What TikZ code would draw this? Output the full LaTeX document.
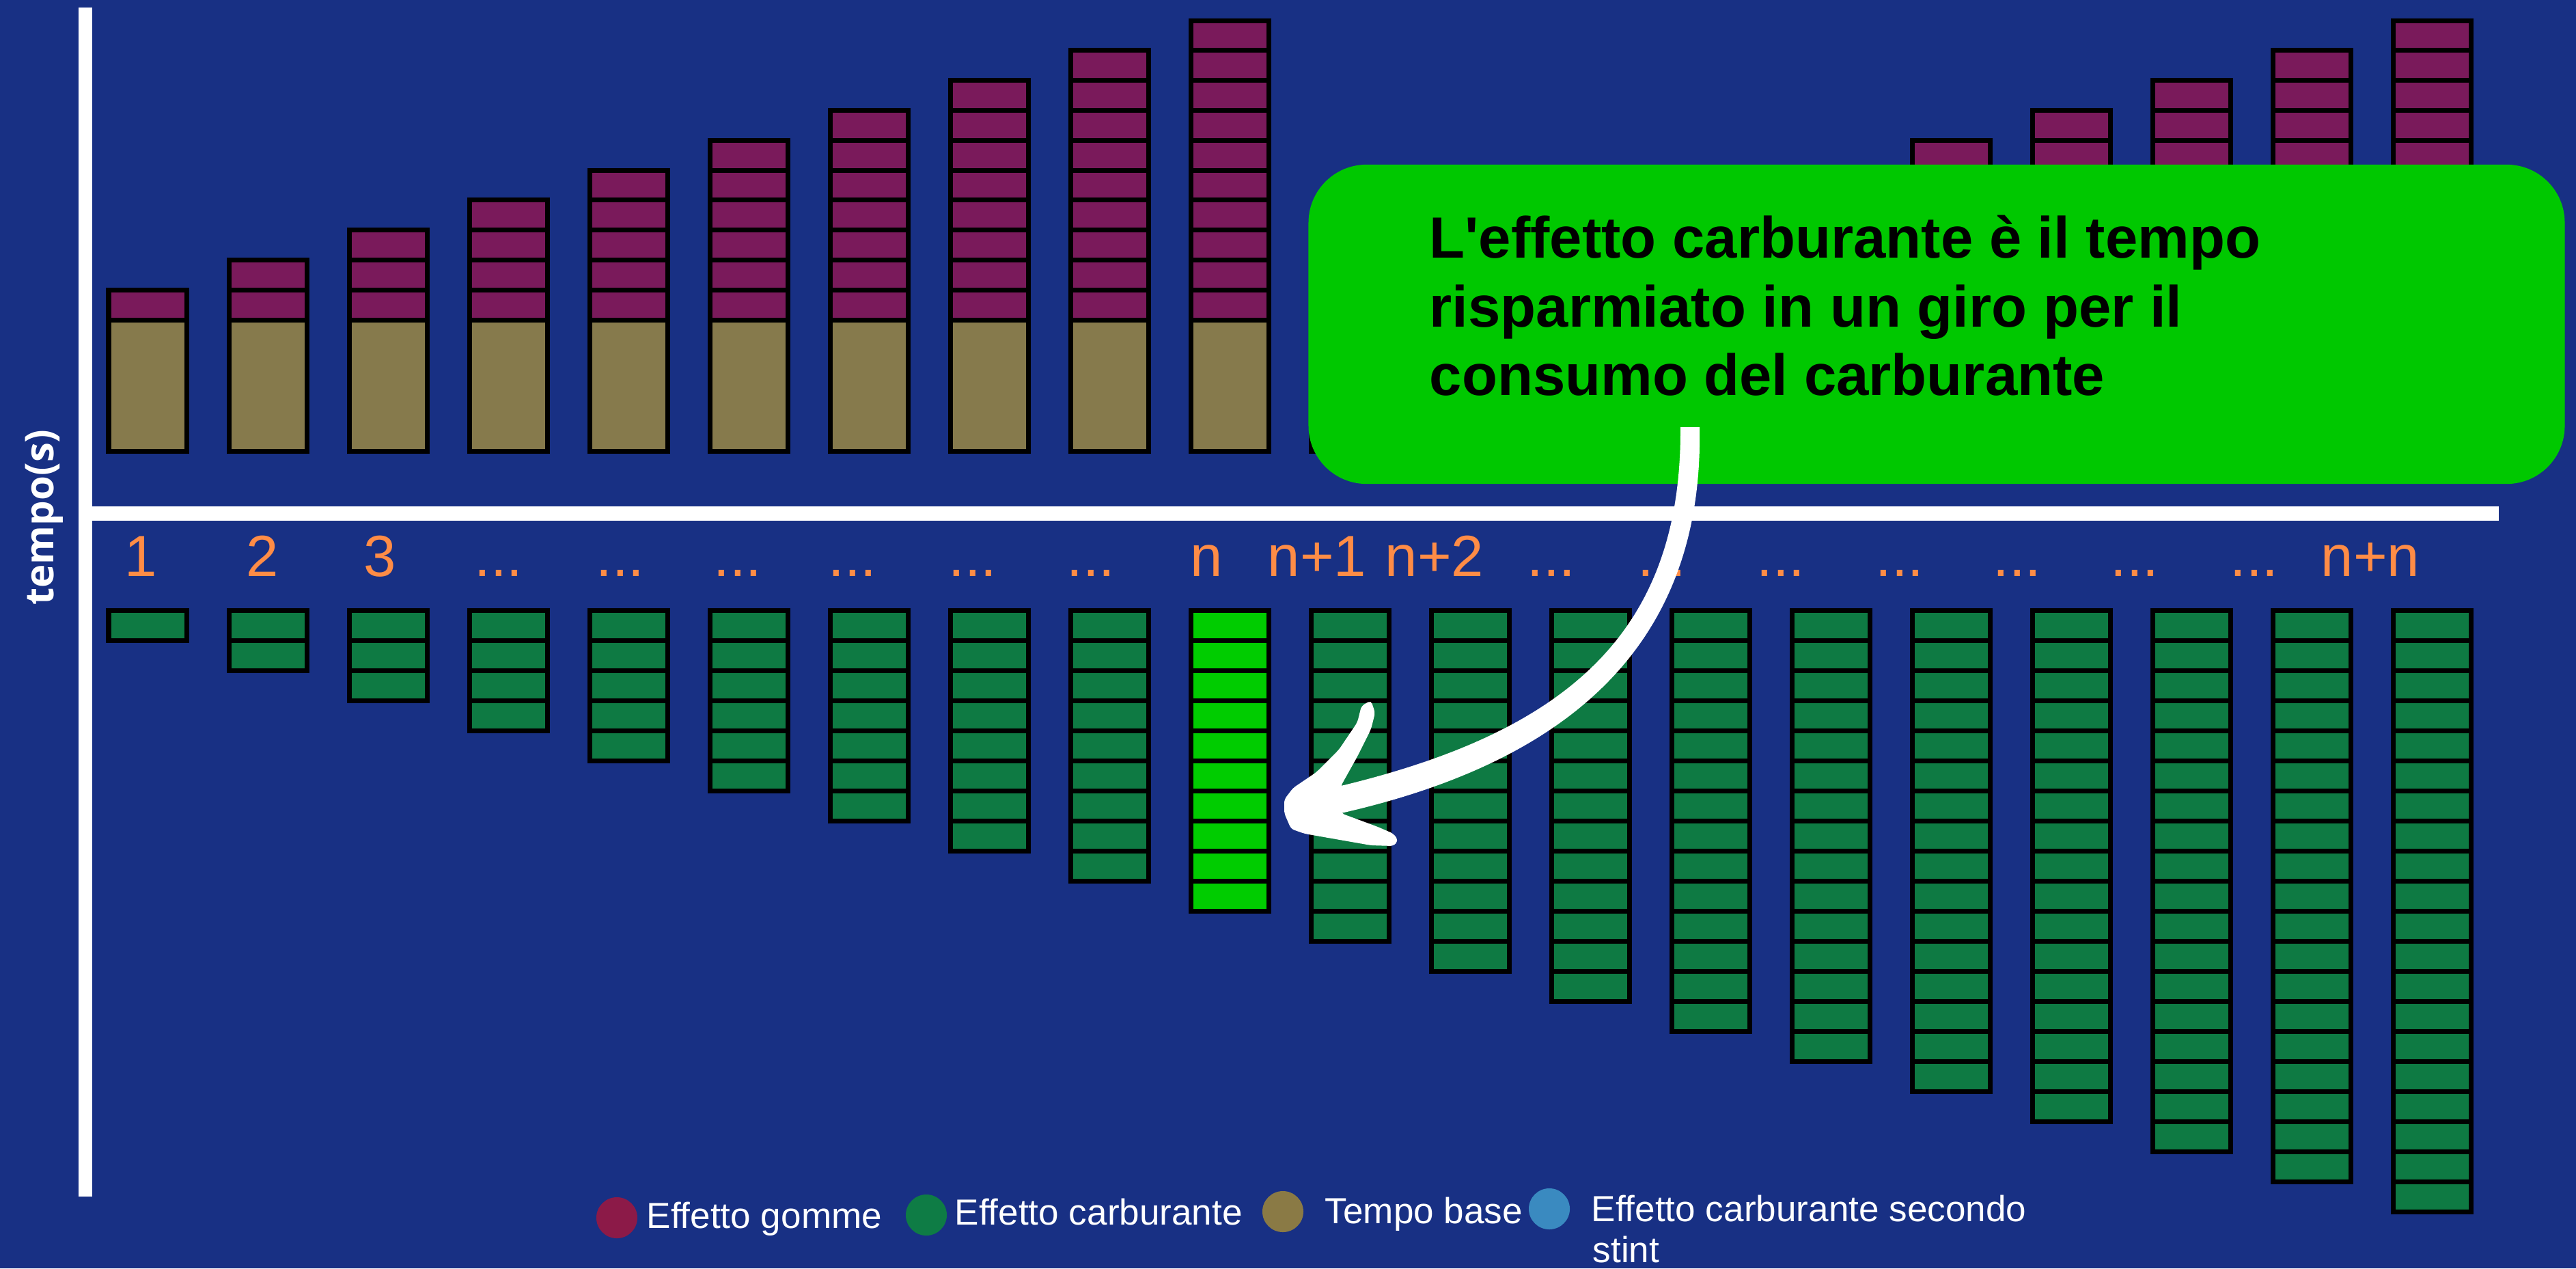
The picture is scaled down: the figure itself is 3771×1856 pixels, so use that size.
\documentclass[tikz,border=0pt]{standalone}
\usepackage{fontspec}
\setmainfont{Liberation Sans}
\newfontfamily\callfont{Liberation Sans}[Ligatures=TeXOff]
\newfontfamily\axisfont{Open Sans}
\usetikzlibrary{calc}
\definecolor{bgblue}{RGB}{24,48,132}
\definecolor{purplecell}{RGB}{122,26,91}
\definecolor{tanbase}{RGB}{134,122,76}
\definecolor{greencell}{RGB}{14,122,67}
\definecolor{brightgreen}{RGB}{0,204,0}
\definecolor{calloutgreen}{RGB}{0,200,0}
\definecolor{labelorange}{RGB}{255,140,70}
\definecolor{leggomme}{RGB}{140,26,72}
\definecolor{legcarb}{RGB}{14,124,69}
\definecolor{legtempo}{RGB}{138,122,69}
\definecolor{legsecondo}{RGB}{58,138,192}
\def\tdots{...}
\begin{document}
\begin{tikzpicture}[x=0.01cm,y=-0.01cm,
  cell/.style={draw=black,line width=0.07cm},
  lapnum/.style={text=labelorange,font=\fontsize{24.2pt}{29pt}\selectfont,anchor=base,inner sep=0},
  calltext/.style={text=black,font=\callfont\bfseries\fontsize{24.2pt}{29pt}\selectfont,anchor=base west,inner sep=0},
  legtext/.style={text=white,font=\fontsize{15.1pt}{18pt}\selectfont,anchor=base west,inner sep=0},
  legdot/.style={circle,minimum size=0.6cm,inner sep=0},
  axisline/.style={fill=white},
]
\fill[bgblue] (0,0) rectangle (3771,1856);
\useasboundingbox (0,0) rectangle (3771,1856);

% axes
\fill[axisline] (115,11) rectangle (135,1751);
\fill[axisline] (135,741) rectangle (3658,762);
\node[rotate=90,text=white,font=\axisfont\bfseries\fontsize{16.5pt}{20pt}\selectfont,inner sep=0] (ylabel) at (65,757) {tempo(s)};

% top bars (base time + tyre effect)
\foreach \i in {1,...,20} {
  \pgfmathsetmacro\cx{216+176*(\i-1)}
  \pgfmathtruncatemacro\np{\i>10 ? \i-10 : \i}
  \filldraw[cell,fill=tanbase] (\cx-57,468) rectangle (\cx+57,660);
  \foreach \k in {1,...,\np} {
    \filldraw[cell,fill=purplecell] (\cx-57,{468-43.8*\k}) rectangle (\cx+57,{468-43.8*(\k-1)});
  }
}

% bottom bars (fuel effect)
\foreach \i in {1,...,20} {
  \pgfmathsetmacro\cx{216+176*(\i-1)}
  \ifnum\i=10 \def\fc{brightgreen}\else\def\fc{greencell}\fi
  \foreach \k in {1,...,\i} {
    \filldraw[cell,fill=\fc] (\cx-57,{893+44*(\k-1)}) rectangle (\cx+57,{893+44*\k});
  }
}

% lap labels
\foreach \x/\t [count=\j] in {206/1,384/2,556/3,730/\tdots,908/\tdots,1080/\tdots,1248/\tdots,1424/\tdots,1597/\tdots,1766/n,1928/n+1,2100/n+2,2271/\tdots,2433/\tdots,2607/\tdots,2781/\tdots,2953/\tdots,3125/\tdots,3300/\tdots,3470/n+n} {
  \node[lapnum] (lab\j) at (\x,843) {\t};
}

% callout
\node[fill=calloutgreen,rounded corners=0.85cm,minimum width=18.38cm,minimum height=4.67cm,inner sep=0] (callout) at (2835,474.5) {};
\node[calltext] (ct1) at (2092,377) {L'effetto carburante è il tempo};
\node[calltext] (ct2) at (2092,478) {risparmiato in un giro per il};
\node[calltext] (ct3) at (2092,578) {consumo del carburante};

% arrow
\coordinate (arrowstart) at (2474,628);
\coordinate (arrowtip) at (1880,1190);
\fill[white] ($(arrowstart)+(-14,-3)$) .. controls (2462,925) and (2295,1070) .. (1963,1150)
  -- (1963,1190) .. controls (2308,1112) and (2494,935) .. ($(arrowstart)+(14,-3)$) -- cycle;
\fill[white,rounded corners=0.05cm] (2007,1025) -- (1993,1033) -- (1987,1057) -- (1960,1097) -- (1927,1130)
  -- (1893,1153) -- (1880,1170) -- (arrowtip) -- (1890,1213) -- (1910,1220) -- (1967,1230) -- (2007,1237)
  -- (2040,1238) -- (2047,1230) -- (2040,1220) -- (2017,1210) -- (1990,1200) -- (1963,1190) -- (1963,1150)
  -- (1987,1107) -- (2007,1067) -- (2013,1043) -- cycle;

% legend
\node[legdot,fill=leggomme] (dot1) at (903,1782) {};
\node[legtext] (leg1) at (946,1797) {Effetto gomme};
\node[legdot,fill=legcarb] (dot2) at (1356,1778) {};
\node[legtext] (leg2) at (1397,1792) {Effetto carburante};
\node[legdot,fill=legtempo] (dot3) at (1878,1773) {};
\node[legtext] (leg3) at (1939,1790) {Tempo base};
\node[legdot,fill=legsecondo] (dot4) at (2268,1769) {};
\node[legtext] (leg4) at (2329,1787) {Effetto carburante secondo};
\node[legtext] (leg5) at (2331,1847) {stint};
\end{tikzpicture}
\end{document}
